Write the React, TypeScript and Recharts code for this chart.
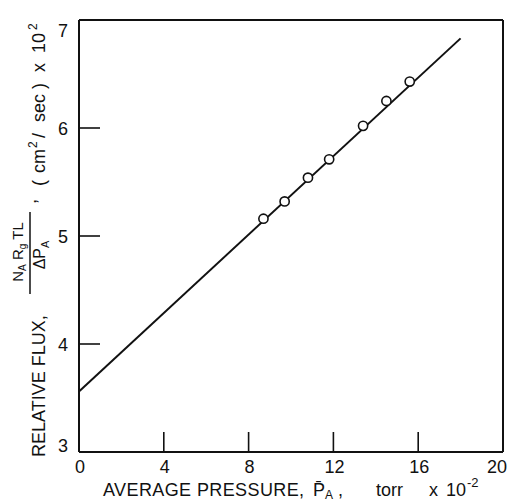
import { ScatterChart, Scatter, XAxis, YAxis, Label } from 'recharts';

// measured points
const pressure = [8.7, 9.7, 10.8, 11.8, 13.4, 14.5, 15.6];
const flux = [5.16, 5.32, 5.54, 5.71, 6.02, 6.25, 6.43];

// straight line drawn through the data
const fitPressure = [0, 18];
const fitFlux = [3.56, 6.83];

const xTicks = [0, 4, 8, 12, 16, 20];
const yTicks = [3, 4, 5, 6, 7];

const points = pressure.map((p, i) => ({ x: p, y: flux[i] }));
const fit = fitPressure.map((p, i) => ({ x: p, y: fitFlux[i] }));

const FONT = '"Liberation Sans", Arial, Helvetica, sans-serif';
const INK = '#111';

const BottomTick = (props: any) => {
  const { x, y, payload } = props;
  const v = payload.value;
  const showLine = v !== 0 && v !== 20;
  return (
    <g>
      {showLine && <line x1={x} x2={x} y1={y} y2={y - 20} stroke={INK} strokeWidth={1.6} />}
      <text x={v === 20 ? x - 6 : x + 1} y={y + 21} textAnchor="middle" fontSize={18} fontFamily={FONT} fill={INK}>
        {v}
      </text>
    </g>
  );
};

const TopTick = (props: any) => {
  const { x, y, payload } = props;
  const v = payload.value;
  if (v === 0 || v === 20) return <g />;
  return <line x1={x} x2={x} y1={y} y2={y + 12} stroke={INK} strokeWidth={1.6} />;
};

const LeftTick = (props: any) => {
  const { x, y, payload } = props;
  const v = payload.value;
  const dy = v === 7 ? 17 : v === 3 ? 0 : 6.5;
  return (
    <g>
      {v !== 3 && v !== 7 && <line x1={x} x2={x + 21} y1={y} y2={y} stroke={INK} strokeWidth={1.6} />}
      <text x={x - 11} y={y + dy} textAnchor="end" fontSize={18} fontFamily={FONT} fill={INK}>
        {v}
      </text>
    </g>
  );
};

const RightTick = (props: any) => {
  const { x, y, payload } = props;
  const v = payload.value;
  if (v === 3 || v === 7) return <g />;
  return <line x1={x} x2={x - 12} y1={y} y2={y} stroke={INK} strokeWidth={1.6} />;
};

const XTitle = () => (
  <text y={496} fontSize={18} fontFamily={FONT} fill={INK}>
    <tspan x={103} letterSpacing={0.4}>AVERAGE PRESSURE,</tspan>
    <tspan x={313}>{'P\u0304'}</tspan>
    <tspan x={325} dy={3} fontSize={12}>A</tspan>
    <tspan x={338} dy={-3}>,</tspan>
    <tspan x={376}>torr</tspan>
    <tspan x={429}>x</tspan>
    <tspan x={446}>10</tspan>
    <tspan x={467} dy={-9} fontSize={13}>-2</tspan>
  </text>
);

const YTitle = () => (
  <g transform="rotate(-90)" fontFamily={FONT} fill={INK}>
    <text x={-457} y={45} fontSize={18}>RELATIVE FLUX,</text>
    <text x={-252} y={23} fontSize={15} textAnchor="middle">
      N<tspan fontSize={10} dy={3}>A</tspan>
      <tspan dy={-3}> R</tspan>
      <tspan fontSize={10} dy={3}>g</tspan>
      <tspan dy={-3}> TL</tspan>
    </text>
    <line x1={-294} x2={-212} y1={30} y2={30} stroke={INK} strokeWidth={1.5} />
    <text x={-255} y={45} fontSize={16} textAnchor="middle">
      ΔP<tspan fontSize={11} dy={4}>A</tspan>
    </text>
    <text x={-204} y={36} fontSize={18}>,</text>
    <text y={45} fontSize={18}>
      <tspan x={-186}>(</tspan>
      <tspan x={-173}>cm</tspan>
      <tspan x={-148} dy={-8} fontSize={12}>2</tspan>
      <tspan x={-138} dy={8}>/</tspan>
      <tspan x={-122}>sec</tspan>
      <tspan x={-89}>)</tspan>
      <tspan x={-72}>x</tspan>
      <tspan x={-53}>10</tspan>
      <tspan x={-30} dy={-8} fontSize={12}>2</tspan>
    </text>
  </g>
);

const Ring = (props: any) => (
  <circle cx={props.cx} cy={props.cy} r={4.6} fill="#fff" stroke={INK} strokeWidth={1.6} />
);

export default function App() {
  return (
    <div style={{ position: 'absolute', left: 0, top: 0, background: '#fff' }}>
      <ScatterChart width={508} height={503} margin={{ top: 19, right: 4, bottom: 0, left: 0 }}>
        <XAxis
          xAxisId="b"
          type="number"
          dataKey="x"
          domain={[0, 20]}
          ticks={xTicks}
          height={51}
          tickSize={0}
          tickMargin={0}
          tickLine={false}
          axisLine={{ stroke: INK, strokeWidth: 2 }}
          tick={<BottomTick />}
          interval={0}
        >
          <Label content={() => <XTitle />} />
        </XAxis>
        <XAxis
          xAxisId="t"
          orientation="top"
          type="number"
          dataKey="x"
          domain={[0, 20]}
          ticks={xTicks}
          height={1}
          tickSize={0}
          tickMargin={0}
          tickLine={false}
          axisLine={{ stroke: INK, strokeWidth: 2 }}
          tick={<TopTick />}
          interval={0}
        />
        <YAxis
          yAxisId="l"
          type="number"
          dataKey="y"
          domain={[3, 7]}
          ticks={yTicks}
          width={79}
          tickSize={0}
          tickMargin={0}
          tickLine={false}
          axisLine={{ stroke: INK, strokeWidth: 2 }}
          tick={<LeftTick />}
          interval={0}
        >
          <Label content={() => <YTitle />} />
        </YAxis>
        <YAxis
          yAxisId="r"
          orientation="right"
          type="number"
          dataKey="y"
          domain={[3, 7]}
          ticks={yTicks}
          width={1}
          tickSize={0}
          tickMargin={0}
          tickLine={false}
          axisLine={{ stroke: INK, strokeWidth: 2 }}
          tick={<RightTick />}
          interval={0}
        />
        <Scatter
          xAxisId="b"
          yAxisId="l"
          data={fit}
          line={{ stroke: INK, strokeWidth: 2 }}
          shape={() => <g />}
          isAnimationActive={false}
        />
        <Scatter xAxisId="b" yAxisId="l" data={points} shape={<Ring />} isAnimationActive={false} />
      </ScatterChart>
    </div>
  );
}
